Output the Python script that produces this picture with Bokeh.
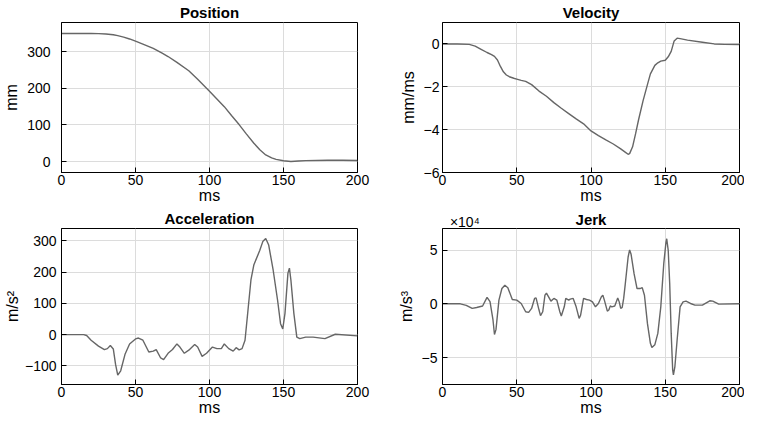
from bokeh.plotting import figure
from bokeh.layouts import column, row
from bokeh.models import Title, FixedTicker, Range1d, LinearAxis
from bokeh.embed import file_html
from bokeh.resources import INLINE

# ---------------- data ----------------
pos_t = [0, 10, 20, 25, 30, 35, 38, 42, 46, 50, 55, 62, 68, 72, 78, 86, 92, 98, 100, 105, 110, 115, 120, 125, 130,
         134, 138, 142, 145, 150, 155, 160, 165, 180, 190, 200]
pos_v = [350, 350, 350, 349.5, 348.5, 346.5, 344, 340, 335, 329, 321, 309, 296, 287, 271, 248, 225, 200, 192, 171,
         150, 125, 101, 75, 50, 32, 18, 10, 6, 2, 0, 1.5, 2.5, 3.5, 3.5, 3]

vel_t = [0, 10, 18, 22, 26, 30, 33, 35, 37, 39, 41, 43, 45, 48, 50, 53, 56, 60, 65, 70, 75, 80, 85, 90, 95, 100,
         105, 110, 115, 120, 123, 125, 126, 128, 130, 132, 135, 138, 140, 143, 145, 147, 150, 152, 154, 156, 158,
         160, 165, 175, 183, 190, 200]
vel_v = [0, 0, -0.02, -0.1, -0.25, -0.4, -0.5, -0.58, -0.75, -1.05, -1.3, -1.45, -1.53, -1.6, -1.64, -1.7, -1.75,
         -1.9, -2.2, -2.44, -2.74, -3.0, -3.25, -3.5, -3.73, -4.06, -4.28, -4.48, -4.67, -4.9, -5.05, -5.15, -5.12,
         -4.8, -4.2, -3.55, -2.67, -1.9, -1.4, -1.0, -0.88, -0.8, -0.76, -0.6, -0.35, 0.14, 0.27, 0.25, 0.18, 0.08,
         0.0, -0.02, -0.03]

acc_t = [0, 10, 15, 17, 20, 25, 29, 31, 33, 35, 36.5, 38, 40, 43, 46, 50, 52, 55, 59, 62, 64, 67, 69, 72, 75, 78,
         80, 83, 86, 90, 92, 95, 98, 102, 105, 108, 110, 113, 116, 118, 120, 122, 124, 126, 128, 130, 134, 136, 138,
         140, 143, 146, 148, 149.5, 151, 153, 154, 155, 157, 159, 161, 165, 170, 178, 185, 200]
acc_v = [0, 0, 0, -3, -18, -37, -48, -45, -35, -46, -95, -130, -116, -62, -30, -14, -11, -18, -56, -53, -48, -75,
         -80, -60, -48, -30, -40, -60, -50, -32, -40, -70, -60, -40, -45, -45, -30, -45, -53, -42, -49, -45, -18, 78,
         175, 224, 270, 298, 308, 287, 207, 110, 35, 18, 68, 197, 213, 175, 68, -8, -13, -8, -8, -13, 1, -4]

jerk_t = [0, 12, 16, 20, 23, 27, 30, 32, 34, 35, 36, 38, 40, 42, 44, 47, 50, 53, 56, 58, 60, 62, 63, 65, 66, 67.5,
          69, 70, 72, 73, 75, 77, 79, 80, 82, 83, 85, 86, 88, 90, 92, 93, 95, 97, 99, 101, 103, 105, 107, 108, 109,
          111, 112, 113, 114, 116, 118, 119, 120, 121, 122, 123, 125, 126, 127, 129, 131, 133, 134.5, 136, 138, 140,
          141, 143, 145, 147, 149, 150.5, 151, 152, 153, 154, 155, 155.5, 156.5, 158, 160, 162, 164, 167, 170, 175,
          180, 182, 186, 200]
jerk_v = [0, 0, -0.15, -0.43, -0.34, -0.2, 0.6, 0.2, -1.5, -2.85, -2.4, 0.34, 1.42, 1.73, 1.5, 0.4, 0.34, 0.03,
          -0.74, -0.8, -0.43, 0.5, 0.55, -0.58, -1.1, -0.74, 0.8, 1.0, 0.5, 0.25, 0.5, 0.34, -0.74, -1.14, -0.28,
          0.5, 0.34, 0.43, 0.5, -0.28, -1.36, -1.05, 0.5, 0.4, 0.34, 0.18, -0.28, 0.03, 0.65, 0.8, 0.34, -0.68,
          -0.58, -0.2, -0.28, -0.2, 0.55, 0.18, -0.43, -0.34, 0.5, 1.73, 4.35, 5.0, 4.6, 2.8, 1.42, 1.42, 1.5, 0.8,
          -1.82, -3.67, -4.07, -3.8, -2.75, -0.28, 3.73, 5.74, 6.05, 4.97, 1.88, -2.75, -6.14, -6.6, -5.83, -3.36,
          -0.28, 0.18, 0.25, 0.03, -0.12, -0.12, 0.28, 0.25, -0.03, 0]

x_ticks = [0, 50, 100, 150, 200]
pos_ticks = [0, 100, 200, 300]
vel_ticks = [-6, -4, -2, 0]
acc_ticks = [-100, 0, 100, 200, 300]
jerk_ticks = [-5, 0, 5]
jerk_exponent = "×10⁴"

FONT = "Liberation Sans"
LINE = "#666666"


def style_axis(ax, ticks):
    ax.ticker = FixedTicker(ticks=ticks)
    ax.major_tick_in = 5
    ax.major_tick_out = 0
    ax.minor_tick_in = 0
    ax.minor_tick_out = 0
    ax.axis_line_color = "black"
    ax.axis_line_width = 1
    ax.major_tick_line_color = "black"
    ax.major_tick_line_width = 1
    ax.major_label_text_font = FONT
    ax.major_label_text_font_size = "14px"
    ax.major_label_text_color = "black"
    ax.axis_label_text_font = FONT
    ax.axis_label_text_font_size = "16px"
    ax.axis_label_text_font_style = "normal"
    ax.axis_label_text_color = "black"


def make(t, v, yr, yticks, ylabel, left, right, top, h, ystand, ylab_stand):
    p = figure(width=372, height=h, output_backend="svg", toolbar_location=None,
               x_range=Range1d(0, 200), y_range=Range1d(*yr),
               min_border_left=left, min_border_right=right, min_border_top=top, min_border_bottom=0)
    p.line(t, v, line_color=LINE, line_width=1.4)
    p.outline_line_color = "black"
    p.outline_line_width = 1
    p.outline_line_alpha = 1
    style_axis(p.xaxis[0], x_ticks)
    style_axis(p.yaxis[0], yticks)
    p.xaxis[0].axis_label = "ms"
    p.xaxis[0].major_label_standoff = 2
    p.xaxis[0].axis_label_standoff = -1
    p.yaxis[0].axis_label = ylabel
    p.yaxis[0].major_label_standoff = ystand
    p.yaxis[0].axis_label_standoff = ylab_stand
    p.grid.grid_line_color = "#dcdcdc"
    p.grid.grid_line_width = 1
    p.xgrid.ticker = FixedTicker(ticks=x_ticks)
    p.ygrid.ticker = FixedTicker(ticks=yticks)
    return p


def add_title(p, text):
    p.add_layout(Title(text=text, align="center", text_font=FONT, text_font_size="15px",
                       text_font_style="bold", text_color="black", standoff=3), "above")


p1 = make(pos_t, pos_v, (-30, 380), pos_ticks, "mm", 50, 15, 11, 206, 11, 4)
p2 = make(vel_t, vel_v, (-6, 1), vel_ticks, "mm/ms", 70, 5, 11, 206, 3, 4)
p3 = make(acc_t, acc_v, (-160, 340), acc_ticks, "m/s²", 50, 15, 22, 212, 5, 1)
p4 = make(jerk_t, jerk_v, (-7.5, 7), jerk_ticks, "m/s³", 70, 5, 22, 212, 5, 4)

add_title(p1, "Position")
add_title(p2, "Velocity")
add_title(p3, "Acceleration")

# Jerk: exponent note (as a lone tick label near the left edge) and the bold title on one line
top = LinearAxis(ticker=FixedTicker(ticks=[15]), major_label_overrides={15: jerk_exponent})
top.axis_line_color = None
top.major_tick_line_color = None
top.minor_tick_line_color = None
top.major_label_standoff = -7
top.major_label_text_font = FONT
top.major_label_text_font_size = "14px"
top.major_label_text_color = "black"
top.axis_label = "Jerk"
top.axis_label_text_font = FONT
top.axis_label_text_font_size = "15px"
top.axis_label_text_font_style = "bold"
top.axis_label_text_color = "black"
top.axis_label_standoff = -17
p4.add_layout(top, "above")

layout = column(row(p1, p2), row(p3, p4))
open("out.html", "w").write(file_html(layout, INLINE))
